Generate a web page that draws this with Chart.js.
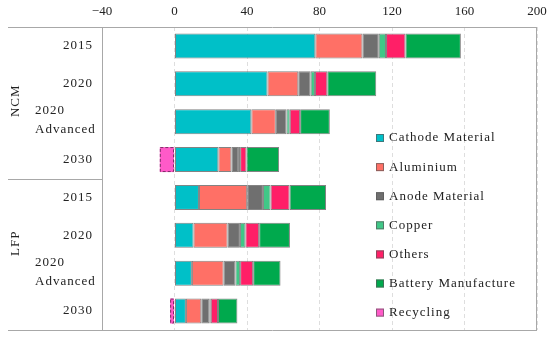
<!DOCTYPE html>
<html>
<head>
<meta charset="utf-8">
<script src="https://cdn.jsdelivr.net/npm/chart.js@4/dist/chart.umd.min.js"></script>
<style>
  html, body { margin: 0; padding: 0; background: #fff; }
  #wrap { width: 550px; height: 338px; }
</style>
</head>
<body>
<div id="wrap"><canvas id="chart"></canvas></div>
<script>
// categories, two groups of four
const groups = ['NCM', 'LFP'];
const categories = ['2015', '2020', '2020 Advanced', '2030', '2015', '2020', '2020 Advanced', '2030'];
const xTicks = [-40, 0, 40, 80, 120, 160, 200];

// series values
const cathode   = [77.7, 51.3, 42.4, 24.2, 13.5, 10.5, 9.6, 6.3];
const aluminium = [26.0, 17.0, 13.5, 7.2, 26.6, 18.8, 17.5, 8.5];
const anode     = [9.0, 6.8, 5.9, 3.7, 8.7, 6.8, 6.5, 4.4];
const copper    = [4.0, 2.4, 1.8, 1.1, 4.2, 3.0, 2.6, 0.8];
const others    = [10.7, 6.8, 5.7, 3.5, 10.5, 7.6, 7.2, 4.0];
const battery   = [30.6, 27.0, 16.4, 18.0, 20.1, 17.0, 15.1, 10.7];
const recycling = [null, null, null, -8.1, null, null, null, -2.4];

const FONT = '"Liberation Serif", "DejaVu Serif", serif';
const LINE = '#a8a8a8';

function series(label, data, color) {
    return {
        label: label,
        data: data,
        backgroundColor: color,
        borderColor: 'rgba(90, 90, 90, 0.75)',
        borderWidth: 1,
        borderSkipped: false,
        barPercentage: 0.66,
        categoryPercentage: 1.0
    };
}

const datasets = [
    series('Cathode Material', cathode, '#00c0c8'),
    series('Aluminium', aluminium, '#ff7066'),
    series('Anode Material', anode, '#6f6f6f'),
    series('Copper', copper, '#40c787'),
    series('Others', others, '#ff1f67'),
    series('Battery Manufacture', battery, '#00a94d'),
    series('Recycling', recycling, '#ff5ac8')
];
datasets[6].borderWidth = 0;

// frame, y labels, group labels, legend, dashed recycling outline
const decorations = {
    id: 'decorations',
    afterDatasetsDraw(chart) {
        const ctx = chart.ctx;
        const area = chart.chartArea;
        const y = chart.scales.y;

        // dashed outline for recycling bars
        const meta = chart.getDatasetMeta(6);
        ctx.save();
        ctx.setLineDash([3, 2]);
        ctx.strokeStyle = '#7d2f66';
        ctx.lineWidth = 1;
        meta.data.forEach((bar, i) => {
            if (recycling[i] === null) return;
            const p = bar.getProps(['x', 'y', 'base', 'height'], true);
            const left = Math.min(p.x, p.base);
            const w = Math.abs(p.x - p.base);
            ctx.strokeRect(left + 0.5, p.y - p.height / 2 + 0.5, w - 1, p.height - 1);
        });
        ctx.restore();

        ctx.save();
        // frame lines
        ctx.strokeStyle = LINE;
        ctx.lineWidth = 1;
        ctx.beginPath();
        ctx.moveTo(8, Math.round(area.top) + 0.5);
        ctx.lineTo(area.right, Math.round(area.top) + 0.5);
        ctx.moveTo(8, Math.round(area.bottom) + 0.5);
        ctx.lineTo(area.right, Math.round(area.bottom) + 0.5);
        ctx.moveTo(Math.round(area.left) + 0.5, area.top);
        ctx.lineTo(Math.round(area.left) + 0.5, area.bottom);
        ctx.moveTo(Math.round(area.right) - 0.5, area.top);
        ctx.lineTo(Math.round(area.right) - 0.5, area.bottom);
        const sep = Math.round((y.getPixelForValue(3) + y.getPixelForValue(4)) / 2) + 0.5;
        ctx.moveTo(8, sep);
        ctx.lineTo(area.left, sep);
        ctx.stroke();

        // category labels
        ctx.fillStyle = '#222';
        ctx.font = '13px ' + FONT;
        ctx.letterSpacing = '1px';
        ctx.textBaseline = 'middle';
        categories.forEach((c, i) => {
            const cy = y.getPixelForValue(i);
            if (c === '2020 Advanced') {
                ctx.textAlign = 'left';
                ctx.fillText('2020', 35, cy - 11);
                ctx.fillText('Advanced', 35, cy + 8);
            } else {
                ctx.textAlign = 'right';
                ctx.fillText(c, 93, cy);
            }
        });

        // group labels, rotated
        const groupY = [
            (y.getPixelForValue(0) + y.getPixelForValue(3)) / 2 - 2,
            (y.getPixelForValue(4) + y.getPixelForValue(7)) / 2 - 11
        ];
        ctx.textAlign = 'center';
        groups.forEach((g, i) => {
            ctx.save();
            ctx.translate(16, groupY[i]);
            ctx.rotate(-Math.PI / 2);
            ctx.fillText(g, 0, 0);
            ctx.restore();
        });

        // legend
        ctx.textAlign = 'left';
        datasets.forEach((ds, i) => {
            const ly = 138 + i * 29.1;
            ctx.fillStyle = ds.backgroundColor;
            ctx.fillRect(376, ly - 4, 8, 8);
            ctx.strokeStyle = 'rgba(90, 90, 90, 0.7)';
            ctx.strokeRect(376.5, ly - 3.5, 7, 7);
            ctx.fillStyle = '#222';
            ctx.fillText(ds.label, 389, ly);
        });
        ctx.restore();
    }
};

new Chart(document.getElementById('chart'), {
    type: 'bar',
    data: {
        labels: categories,
        datasets: datasets
    },
    options: {
        indexAxis: 'y',
        responsive: true,
        maintainAspectRatio: false,
        animation: false,
        layout: {
            padding: { left: 8, right: 13, top: 0, bottom: 8 }
        },
        plugins: {
            legend: { display: false },
            tooltip: { enabled: false }
        },
        scales: {
            x: {
                position: 'top',
                stacked: true,
                min: -40,
                max: 200,
                afterFit: (scale) => {
                    scale.height = 27;
                    scale.paddingLeft = 0;
                    scale.paddingRight = 0;
                },
                afterBuildTicks: (scale) => {
                    scale.ticks = xTicks.map(v => ({ value: v }));
                },
                grid: {
                    color: '#dedede',
                    drawTicks: false
                },
                border: {
                    display: false,
                    dash: [4, 3]
                },
                ticks: {
                    padding: 8,
                    color: '#222',
                    font: { family: FONT, size: 13 },
                    callback: (value) => String(value).replace('-', '\u2212')
                }
            },
            y: {
                stacked: true,
                afterFit: (scale) => { scale.width = 94; },
                grid: { display: false },
                border: { display: false },
                ticks: { display: false }
            }
        }
    },
    plugins: [decorations]
});
</script>
</body>
</html>
